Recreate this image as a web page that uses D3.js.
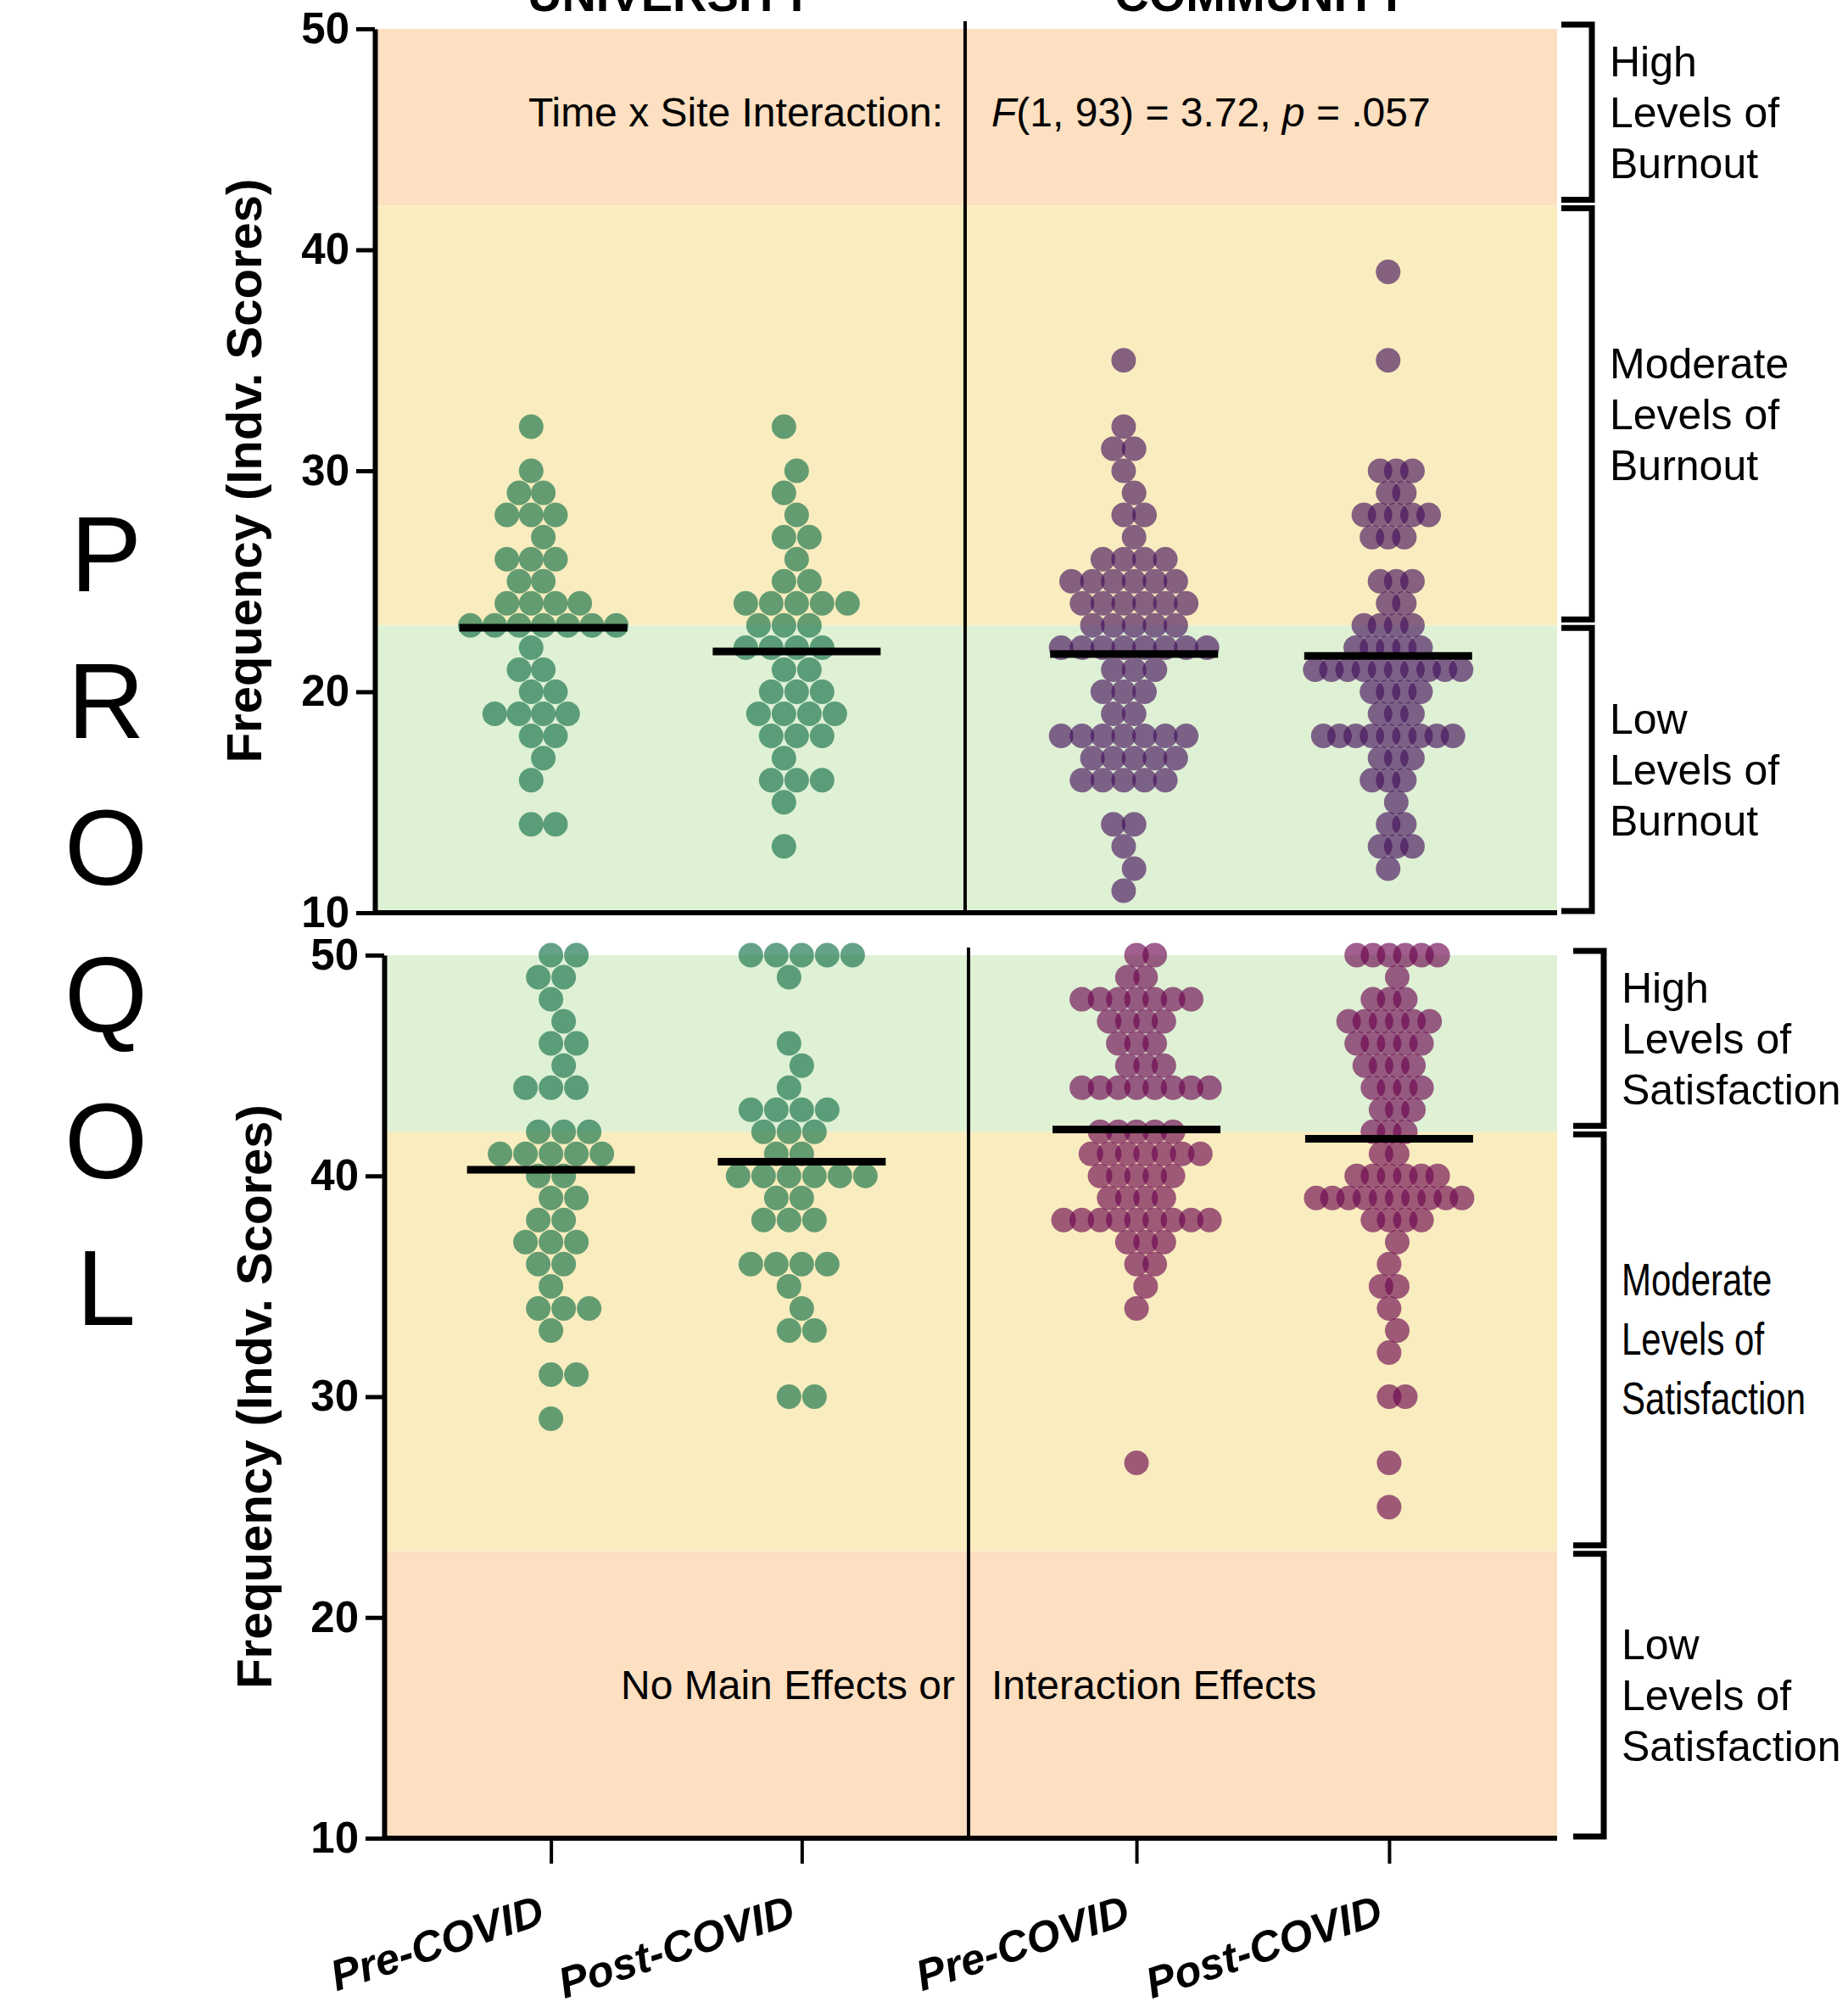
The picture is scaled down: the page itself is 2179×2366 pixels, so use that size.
<!DOCTYPE html>
<html>
<head>
<meta charset="utf-8">
<script src="https://cdn.jsdelivr.net/npm/d3@7"></script>
<style>
  html, body { margin: 0; padding: 0; background: #ffffff; }
  svg text { font-family: "Liberation Sans", Arial, Helvetica, sans-serif; }
</style>
</head>
<body>
<svg id="chart" width="2179" height="2366"></svg>
<script>
// ---------- data ----------
const sites = ["UNIVERSITY", "COMMUNITY"];
const times = ["Pre-COVID", "Post-COVID"];
const yTicks = [10, 20, 30, 40, 50];
const scaleTitle = ["P", "R", "O", "Q", "O", "L"];
const yTitle = "Frequency (Indv. Scores)";

// Individual scores as [score, number of respondents with that score]
const burnoutUniPre = [[32,1],[30,1],[29,2],[28,3],[27,1],[26,3],[25,2],[24,4],[23,7],[22,1],[21,2],[20,2],[19,4],[18,2],[17,1],[16,1],[14,2]];
const burnoutUniPost = [[32,1],[30,1],[29,1],[28,1],[27,2],[26,1],[25,2],[24,5],[23,3],[22,4],[21,2],[20,3],[19,4],[18,3],[17,1],[16,3],[15,1],[13,1]];
const burnoutCommPre = [[35,1],[32,1],[31,2],[30,1],[29,1],[28,2],[27,1],[26,4],[25,6],[24,6],[23,5],[22,8],[21,3],[20,3],[19,2],[18,7],[17,5],[16,5],[14,2],[13,1],[12,1],[11,1]];
const burnoutCommPost = [[39,1],[35,1],[30,3],[29,2],[28,5],[27,3],[25,3],[24,2],[23,4],[22,5],[21,10],[20,4],[19,3],[18,9],[17,3],[16,3],[15,1],[14,2],[13,3],[12,1]];

const satisUniPre = [[50,2],[49,2],[48,1],[47,1],[46,2],[45,1],[44,3],[42,3],[41,5],[40,2],[39,2],[38,2],[37,3],[36,2],[35,1],[34,3],[33,1],[31,2],[29,1]];
const satisUniPost = [[50,5],[49,1],[46,1],[45,1],[44,1],[43,4],[42,3],[41,2],[40,6],[39,2],[38,3],[36,4],[35,1],[34,1],[33,2],[30,2]];
const satisCommPre = [[50,2],[49,2],[48,7],[47,4],[46,3],[45,3],[44,8],[42,5],[41,7],[40,5],[39,4],[38,9],[37,3],[36,2],[35,1],[34,1],[27,1]];
const satisCommPost = [[50,6],[49,1],[48,3],[47,6],[46,5],[45,4],[44,4],[43,3],[42,3],[41,2],[40,6],[39,10],[38,4],[37,1],[36,1],[35,2],[34,1],[33,1],[32,1],[30,2],[27,1],[25,1]];

// Interpretation ranges on the ProQOL scale
const burnoutBands = [
  { from: 42, to: 50, level: "High" },
  { from: 23, to: 42, level: "Moderate" },
  { from: 10, to: 23, level: "Low" }
];
const satisBands = [
  { from: 42, to: 50, level: "High" },
  { from: 23, to: 42, level: "Moderate" },
  { from: 10, to: 23, level: "Low" }
];

const burnoutStat = { left: "Time x Site Interaction:", df: "(1, 93)", F: "3.72", p: ".057" };
const satisStat = { left: "No Main Effects or", right: "Interaction Effects" };

// ---------- styling ----------
const tone = { peach: "#fddfc1", yellow: "#f9edbf", green: "#dff1d5" };
const uniColor = "#0f6d45";
const commColorTop = "#43105a";
const commColorBottom = "#6a054f";
const dotR = 14.5;
const FONT = "'Liberation Sans', Arial, Helvetica, sans-serif";

const svg = d3.select("#chart");
const expand = pairs => pairs.flatMap(([v, n]) => Array(n).fill(v));

// Beeswarm on a half-step grid: dots in one row sit two slots apart,
// dots in neighbouring rows never share a slot. The swarm is then
// squeezed so its widest row fits the column.
function swarm(values) {
  const counts = d3.rollup(values, v => v.length, d => d);
  const rows = Array.from(counts.keys()).sort((a, b) => a - b);
  const used = new Map();
  const pts = [];
  rows.forEach(v => {
    const below = used.get(v - 1) || [];
    const mine = [];
    for (let k = 0; mine.length < counts.get(v); k++) {
      const c = k === 0 ? 0 : (k % 2 ? (k + 1) / 2 : -k / 2);
      if (below.includes(c)) continue;
      if (mine.some(m => Math.abs(m - c) < 2)) continue;
      mine.push(c);
    }
    used.set(v, mine);
    mine.forEach(c => pts.push({ value: v, slot: c }));
  });
  const ext = d3.extent(pts, p => p.slot);
  const span = ext[1] - ext[0];
  const unit = span ? Math.min(15, 172 / span) : 15;
  const mid = (ext[0] + ext[1]) / 2;
  pts.forEach(p => { p.dx = (p.slot - mid) * unit; });
  return pts;
}

const panels = [
  {
    yRange: [1076, 34], axisX: 442, divX: 1138, right: 1836,
    bands: burnoutBands, tones: ["peach", "yellow", "green"], noun: "Burnout",
    series: [burnoutUniPre, burnoutUniPost, burnoutCommPre, burnoutCommPost],
    colors: [uniColor, uniColor, commColorTop, commColorTop],
    bracketX: 1877, titleX: 308, xTicks: false
  },
  {
    yRange: [2167, 1126], axisX: 453, divX: 1142, right: 1836,
    bands: satisBands, tones: ["green", "yellow", "peach"], noun: "Satisfaction",
    series: [satisUniPre, satisUniPost, satisCommPre, satisCommPost],
    colors: [uniColor, uniColor, commColorBottom, commColorBottom],
    bracketX: 1891, titleX: 320, xTicks: true
  }
];

panels.forEach((P, pi) => {
  const g = svg.append("g");
  const y = d3.scaleLinear().domain([10, 50]).range(P.yRange);
  const xPanes = [
    d3.scalePoint().domain(times).range([P.axisX, P.divX]).padding(0.665),
    d3.scalePoint().domain(times).range([P.divX, P.right]).padding(0.665)
  ];

  // background bands
  g.selectAll("rect.band").data(P.bands).join("rect")
    .attr("class", "band")
    .attr("x", P.axisX)
    .attr("y", d => y(d.to))
    .attr("width", P.right - P.axisX)
    .attr("height", d => y(d.from) - y(d.to))
    .attr("fill", (d, i) => tone[P.tones[i]]);

  // dots and means
  P.series.forEach((pairs, si) => {
    const vals = expand(pairs);
    const pane = xPanes[Math.floor(si / 2)];
    const cx = pane(times[si % 2]);
    const pts = swarm(vals);
    g.append("g").selectAll("circle").data(pts).join("circle")
      .attr("cx", d => cx + d.dx)
      .attr("cy", d => y(d.value))
      .attr("r", dotR)
      .attr("fill", P.colors[si])
      .attr("fill-opacity", 0.64);
    const m = d3.mean(vals);
    g.append("line")
      .attr("x1", cx - 99).attr("x2", cx + 99)
      .attr("y1", y(m)).attr("y2", y(m))
      .attr("stroke", "#000").attr("stroke-width", 9);
  });

  // divider between sites
  g.append("line")
    .attr("x1", P.divX).attr("x2", P.divX)
    .attr("y1", y(50) - 9).attr("y2", y(10))
    .attr("stroke", "#000").attr("stroke-width", 4);

  // x axis line
  g.append("line")
    .attr("x1", P.axisX).attr("x2", P.right)
    .attr("y1", y(10)).attr("y2", y(10))
    .attr("stroke", "#000").attr("stroke-width", 6);

  if (P.xTicks) {
    xPanes.forEach(pane => {
      const ax = g.append("g")
        .attr("transform", `translate(0,${y(10)})`)
        .call(d3.axisBottom(pane).tickSize(30).tickSizeOuter(0).tickFormat(""));
      ax.select(".domain").remove();
      ax.selectAll(".tick line").attr("stroke", "#000").attr("stroke-width", 4);
      g.selectAll(null).data(times).join("text")
        .attr("transform", d => `translate(${pane(d) - 5},${y(10) + 100}) rotate(-18)`)
        .attr("text-anchor", "end")
        .style("font-family", FONT)
        .style("font-size", "51px")
        .style("font-weight", "bold")
        .style("font-style", "italic")
        .text(d => d);
    });
  }

  // y axis
  const yAx = g.append("g")
    .attr("transform", `translate(${P.axisX},0)`)
    .call(d3.axisLeft(y).tickValues(yTicks).tickSize(22).tickSizeOuter(0).tickPadding(8));
  yAx.select(".domain").attr("stroke", "#000").attr("stroke-width", 6);
  yAx.selectAll(".tick line").attr("stroke", "#000").attr("stroke-width", 5);
  yAx.selectAll(".tick text")
    .style("font-family", FONT).style("font-size", "51px").style("font-weight", "bold")
    .attr("fill", "#000");

  // y title
  g.append("text")
    .attr("transform", `translate(${P.titleX},${(P.yRange[0] + P.yRange[1]) / 2}) rotate(-90)`)
    .attr("text-anchor", "middle")
    .style("font-family", FONT).style("font-size", "58px").style("font-weight", "bold")
    .text(yTitle);

  // range brackets and their labels
  P.bands.forEach((b, bi) => {
    const top = y(b.to) + (bi === 0 ? -5 : 3);
    const bot = y(b.from) - (bi === P.bands.length - 1 ? 2 : 7);
    g.append("path")
      .attr("d", `M${P.bracketX - 36},${top}H${P.bracketX}V${bot}H${P.bracketX - 36}`)
      .attr("fill", "none").attr("stroke", "#000").attr("stroke-width", 7);
    const lines = [b.level, "Levels of", P.noun];
    const condensed = (pi === 1 && b.level === "Moderate");
    const lh = condensed ? 70 : 60;
    const cy = (top + bot) / 2 + 18;
    const t = g.append("text")
      .style("font-family", FONT).style("font-size", "50px");
    if (condensed) {
      t.attr("transform", `translate(${P.bracketX + 21},${cy}) scale(0.84,1.08)`);
    } else {
      t.attr("transform", `translate(${P.bracketX + 21},${cy})`);
    }
    t.selectAll("tspan").data(lines).join("tspan")
      .attr("x", 0)
      .attr("y", (d, i) => (i - 1) * lh / (condensed ? 1.08 : 1))
      .text(d => d);
  });
});

// site headers (run off the top edge)
const paneCenters = [(442 + 1138) / 2, (1138 + 1836) / 2];
svg.selectAll("text.site").data(sites).join("text")
  .attr("class", "site")
  .attr("x", (d, i) => paneCenters[i])
  .attr("y", 13)
  .attr("text-anchor", "middle")
  .style("font-family", FONT).style("font-size", "56px").style("font-weight", "bold")
  .text(d => d);

// statistics annotations
svg.append("text")
  .attr("x", 1112).attr("y", 149).attr("text-anchor", "end")
  .style("font-family", FONT).style("font-size", "48px")
  .text(burnoutStat.left);
const st = svg.append("text")
  .attr("x", 1169).attr("y", 149)
  .style("font-family", FONT).style("font-size", "48px");
st.append("tspan").style("font-style", "italic").text("F");
st.append("tspan").text(`${burnoutStat.df} = ${burnoutStat.F}, `);
st.append("tspan").style("font-style", "italic").text("p");
st.append("tspan").text(` = ${burnoutStat.p}`);

svg.append("text")
  .attr("x", 1126).attr("y", 2003).attr("text-anchor", "end")
  .style("font-family", FONT).style("font-size", "48px")
  .text(satisStat.left);
svg.append("text")
  .attr("x", 1169).attr("y", 2003)
  .style("font-family", FONT).style("font-size", "48px")
  .text(satisStat.right);

// vertical scale name
svg.selectAll("text.scale").data(scaleTitle).join("text")
  .attr("class", "scale")
  .attr("x", 125)
  .attr("y", (d, i) => 697 + i * 173)
  .attr("text-anchor", "middle")
  .style("font-family", FONT).style("font-size", "126px")
  .text(d => d);
</script>
</body>
</html>
